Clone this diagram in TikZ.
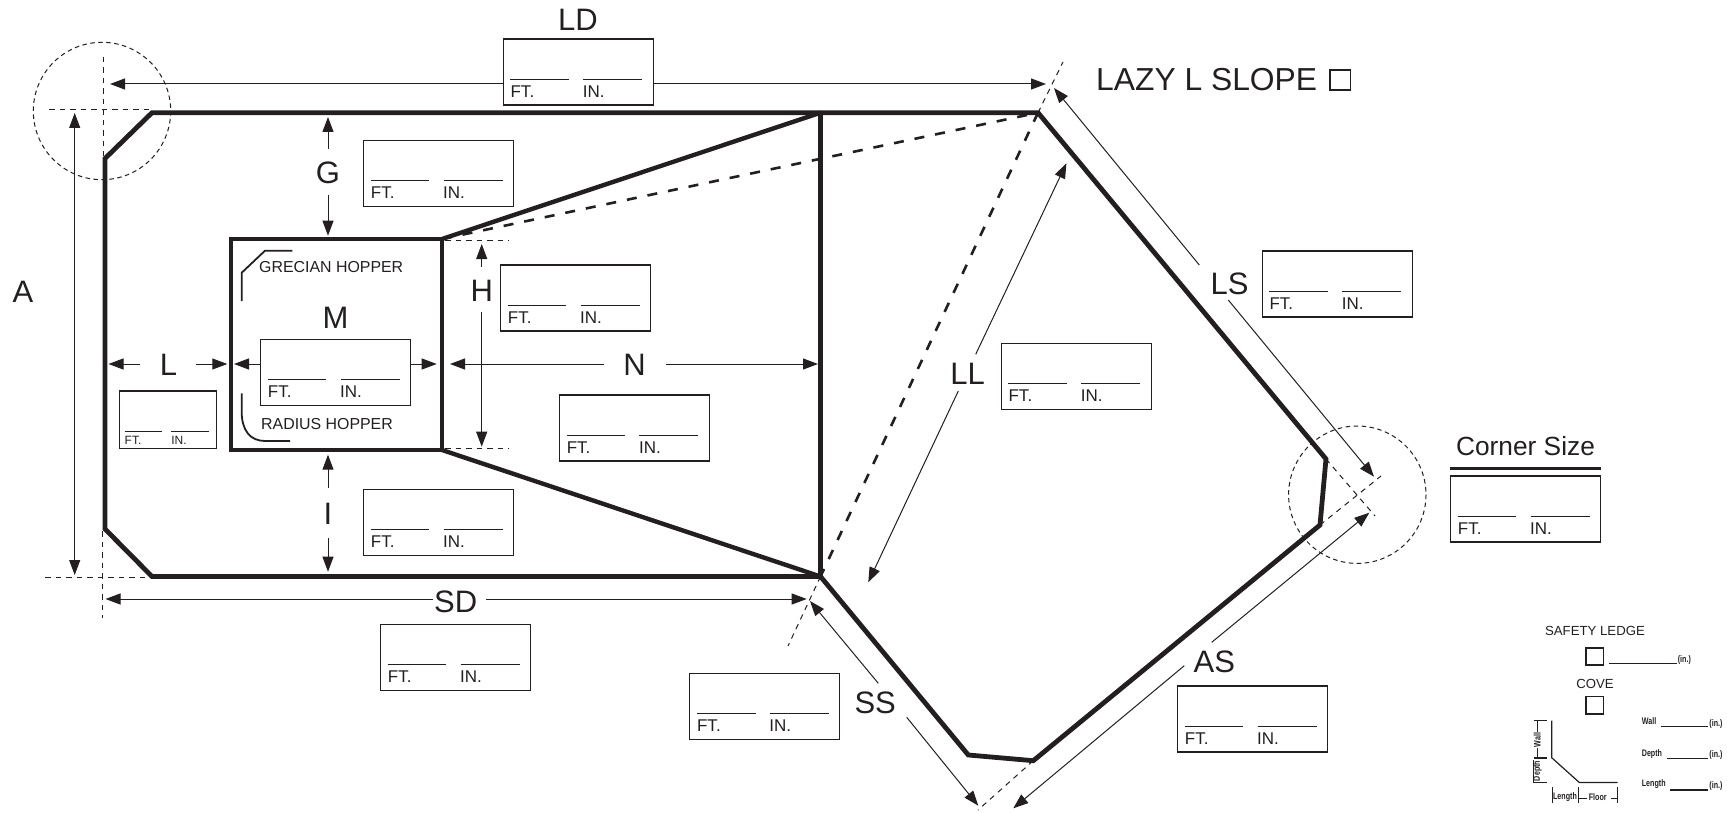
\documentclass[tikz,border=0pt]{standalone}
\usepackage{fontspec}
\setmainfont{Liberation Sans}
\usetikzlibrary{arrows.meta,positioning,calc}

\definecolor{inkk}{HTML}{231F20}

\tikzset{
    wallline/.style={draw=inkk,line width=4.8pt,line join=miter},
    hopperline/.style={draw=inkk,line width=4.4pt},
    fatdash/.style={draw=inkk,line width=2.6pt,dash pattern=on 10pt off 11pt},
    thindash/.style={draw=inkk,line width=1pt,dash pattern=on 5.5pt off 5pt},
    circdash/.style={draw=inkk,line width=1pt,dash pattern=on 4.5pt off 3.5pt},
    dimline/.style={draw=inkk,line width=1pt,-{Triangle[length=15pt,width=11pt]}},
    plainline/.style={draw=inkk,line width=1pt},
    iconline/.style={draw=inkk,line width=1.8pt},
    sizebox/.style={draw=inkk,line width=1.2pt,anchor=north west,inner sep=0pt,minimum width=150pt,minimum height=66pt},
    smallbox/.style={draw=inkk,line width=1.2pt,anchor=north west,inner sep=0pt,minimum width=97pt,minimum height=57.5pt},
    checkbox/.style={draw=inkk,line width=1.8pt,anchor=north west,inner sep=0pt,minimum width=17.5pt,minimum height=17.5pt},
    dimlabel/.style={text=inkk,inner sep=0pt,font=\fontsize{31}{31}\selectfont},
    ftlabel/.style={text=inkk,inner sep=0pt,anchor=base west,font=\fontsize{17}{17}\selectfont},
    tinyftlabel/.style={text=inkk,inner sep=0pt,anchor=base west,font=\fontsize{12}{12}\selectfont},
    hopperlabel/.style={text=inkk,inner sep=0pt,anchor=base west,font=\fontsize{15.9}{15.9}\selectfont},
    ledgelabel/.style={text=inkk,inner sep=0pt,anchor=base,font=\fontsize{13.2}{13.2}\selectfont},
    covelabel/.style={text=inkk,inner sep=0pt,xscale=.75,font=\fontsize{9.5}{9.5}\selectfont\bfseries},
    coveup/.style={text=inkk,inner sep=0pt,rotate=90,xscale=.75,font=\fontsize{9.5}{9.5}\selectfont\bfseries},
}

% box with the two blanks, FT. and IN.
\newcommand{\ftin}[3]{%
    \node[sizebox] (#1) at (#2,#3) {};
    \draw[plainline] ([shift={(7.7,-26.5)}]#1.south west) -- ([shift={(66.3,-26.5)}]#1.south west);
    \draw[plainline] ([shift={(80.5,-26.5)}]#1.south west) -- ([shift={(139.5,-26.5)}]#1.south west);
    \node[ftlabel] (#1ft) at ([shift={(7.7,-8.5)}]#1.south west) {FT.};
    \node[ftlabel] (#1in) at ([shift={(80,-8.5)}]#1.south west) {IN.};
}

\begin{document}
\begin{tikzpicture}[x=1pt,y=-1pt]
    \useasboundingbox (0,0) rectangle (1727,813);

    % pool outline
    \coordinate (tl) at (152,112.7);
    \coordinate (tm) at (820.5,112.7);
    \coordinate (tr) at (1038,112.7);
    \coordinate (rc1) at (1326,459);
    \coordinate (rc2) at (1320,525);
    \coordinate (dp2) at (1033.3,760.7);
    \coordinate (dp1) at (968.3,755);
    \coordinate (bm) at (820.5,576.5);
    \coordinate (bl) at (152,576.5);
    \coordinate (lb) at (105,529);
    \coordinate (lt) at (105,158.5);
    \draw[wallline] (tl) -- (tm) -- (tr) -- (rc1) -- (rc2) -- (dp2) -- (dp1) -- (bm) -- (bl) -- (lb) -- (lt) -- cycle;
    \draw[hopperline] (tm) -- (bm);

    % hopper
    \coordinate (hnw) at (230.7,239);
    \coordinate (hne) at (442,239);
    \coordinate (hse) at (442,450);
    \coordinate (hsw) at (230.7,450);
    \draw[hopperline] (hnw) -- (hne) -- (hse) -- (hsw) -- cycle;
    \draw[hopperline] (hne) -- (tm);
    \draw[hopperline] (hse) -- (bm);
    \draw[iconline] (241.7,301) -- (241.7,272.7) -- (265,250.7) -- (292.3,250.7);
    \draw[iconline] (241.7,393.3) -- (241.7,412) .. controls (241.7,430) and (250,441) .. (265,441) -- (290,441);
    \node[hopperlabel] (grecian) at (259,272.7) {GRECIAN HOPPER};
    \node[hopperlabel] (radius) at (261,429.3) {RADIUS HOPPER};

    % break lines
    \draw[fatdash] (hne) -- (tr);
    \draw[fatdash] (tr) -- (bm);
    \coordinate (slopetop) at (1063,62);
    \coordinate (slopebot) at (788,646);
    \draw[thindash] (tr) -- (slopetop);
    \draw[thindash] (bm) -- (slopebot);
    \draw[thindash] (445,240.7) -- (509,240.7);
    \draw[thindash] (445,448.3) -- (509,448.3);
    \coordinate (dpfoot) at (978,810);
    \draw[thindash] (dp2) -- (dpfoot);

    % corners
    \draw[circdash] (102,111) circle (68.7);
    \draw[circdash] (1357.3,494.7) circle (68.7);
    \draw[thindash] (103.3,57) -- (103.3,156);
    \draw[thindash] (49,110) -- (150,110);
    \draw[thindash] (102.7,531) -- (102.7,618);
    \draw[thindash] (45,577.7) -- (150,577.7);
    \draw[thindash] (rc1) -- (1375,516);
    \draw[thindash] (rc2) -- (1381,476);

    % size boxes
    \ftin{boxLD}{502.7}{38.4}
    \ftin{boxG}{363}{140}
    \ftin{boxH}{500}{264.3}
    \ftin{boxM}{260}{339}
    \ftin{boxN}{558.9}{394.3}
    \ftin{boxI}{363}{489}
    \ftin{boxSD}{380}{624}
    \ftin{boxSS}{689.2}{672.7}
    \ftin{boxAS}{1177}{685.3}
    \ftin{boxLL}{1000.7}{343}
    \ftin{boxLS}{1261.6}{250.4}
    \ftin{boxCorner}{1450}{475.3}

    % the small one
    \node[smallbox] (boxL) at (119.2,390.4) {};
    \draw[plainline] ([shift={(5.3,-17.3)}]boxL.south west) -- ([shift={(43,-17.3)}]boxL.south west);
    \draw[plainline] ([shift={(52,-17.3)}]boxL.south west) -- ([shift={(89.6,-17.3)}]boxL.south west);
    \node[tinyftlabel] (boxLft) at ([shift={(5.3,-4.7)}]boxL.south west) {FT.};
    \node[tinyftlabel] (boxLin) at ([shift={(52,-4.7)}]boxL.south west) {IN.};

    % labels
    \node[dimlabel] (LD) at (578,20) {LD};
    \node[dimlabel] (A) at (23,292) {A};
    \node[dimlabel] (G) at (328,173) {G};
    \node[dimlabel] (H) at (481.7,290.7) {H};
    \node[dimlabel] (L) at (168.5,365) {L};
    \node[dimlabel] (M) at (335.5,318.3) {M};
    \node[dimlabel] (N) at (634.5,365) {N};
    \node[dimlabel] (I) at (328,514) {I};
    \node[dimlabel] (SD) at (455.7,601.7) {SD};
    \node[dimlabel] (SS) at (875.2,703.3) {SS};
    \node[dimlabel] (AS) at (1214.3,662) {AS};
    \node[dimlabel] (LL) at (967.7,374.3) {LL};
    \node[dimlabel] (LS) at (1229.5,284.3) {LS};
    \node[dimlabel,font=\fontsize{31.8}{31.8}\selectfont,anchor=base west] (lazy) at (1096,90.5) {LAZY L SLOPE};
    \node[checkbox,line width=1.6pt,minimum width=20.5pt,minimum height=19.5pt] (lazybox) at (1329,69.5) {};
    \node[text=inkk,inner sep=0pt,anchor=base,font=\fontsize{26.3}{26.3}\selectfont] (corner) at (1525.5,455) {Corner Size};
    \draw[draw=inkk,line width=2.6pt] (boxCorner.north west) ++(0,-7) -- ($(boxCorner.north east)+(0,-7)$);

    % dimension arrows
    \draw[dimline] (boxLD.west |- 0,84) -- (110,84);
    \draw[dimline] (boxLD.east |- 0,84) -- (1046,84);
    \draw[dimline,{Triangle[length=15pt,width=11pt]}-{Triangle[length=15pt,width=11pt]}] (74.7,113) -- (74.7,575);
    \draw[dimline] (328,148.7) -- (328,117);
    \draw[dimline] (328,195) -- (328,235.7);
    \draw[dimline] (481.7,267) -- (481.7,244);
    \draw[dimline] (481.7,311.7) -- (481.7,446.7);
    \draw[dimline] (140,364) -- (108.5,364);
    \draw[dimline] (196,364) -- (227.3,364);
    \draw[dimline] (boxM.west |- 0,364) -- (234,364);
    \draw[dimline] (boxM.east |- 0,364) -- (436.7,364);
    \draw[dimline] (603.6,364) -- (450,364);
    \draw[dimline] (666,364) -- (818,364);
    \draw[dimline] (328,487.7) -- (328,454.7);
    \draw[dimline] (328,538) -- (328,571.7);
    \draw[dimline] (433,599) -- (105.5,599);
    \draw[dimline] (486,599) -- (806.7,599);
    \draw[dimline] (878.3,683.3) -- (810,601);
    \draw[dimline] (906.7,717.3) -- (978.3,805.7);
    \draw[dimline] (1184.3,665.7) -- (1013.3,808.3);
    \draw[dimline] (1211.7,642.3) -- (1369.3,512.7);
    \draw[dimline] (975.7,354.3) -- (1066.4,163.3);
    \draw[dimline] (958.3,391) -- (868.3,582.3);
    \draw[dimline] (1199.3,265) -- (1054,88);
    \draw[dimline] (1228.3,300) -- (1374,476.7);

    % safety ledge and cove
    \node[ledgelabel] (ledge) at (1595,635) {SAFETY LEDGE};
    \node[checkbox] (ledgebox) at (1585,646.7) {};
    \draw[plainline,line width=1.3pt] (1609,663.3) -- (1676.7,663.3);
    \node[covelabel,anchor=base west] (ledgein) at (1677.7,662.3) {(in.)};
    \node[ledgelabel] (cove) at (1595,688.3) {COVE};
    \node[checkbox] (covebox) at (1585,695.5) {};

    \coordinate (cw) at (1551.7,720.7);
    \coordinate (cd) at (1551.7,757.7);
    \coordinate (cl) at (1579.3,782.5);
    \coordinate (cf) at (1617.7,782.5);
    \draw[plainline,line width=1.2pt] (cw) -- (cd) -- (cl) -- (cf);

    \node[coveup] (wallt) at (1537.3,740) {Wall};
    \node[coveup] (deptht) at (1537.3,771) {Depth};
    \draw[plainline] (1533.5,720.7) -- (1547,720.7);
    \draw[plainline,line width=1.6pt] (1533.5,757.7) -- (1547,757.7);
    \draw[plainline] (1533.5,782.5) -- (1547,782.5);
    \draw[plainline] (1537.3,720.7) -- (1537.3,732);
    \draw[plainline] (1537.3,748) -- (1537.3,757.7);
    \draw[plainline,line width=.7pt] (1533.2,760) -- (1533.2,782.5);

    \node[covelabel] (lengtht) at (1565,797.3) {Length};
    \node[covelabel] (floort) at (1597.7,797.3) {Floor};
    \draw[plainline] (1552.3,787.3) -- (1552.3,802.7);
    \draw[plainline,line width=1.4pt] (1578.7,787.3) -- (1578.7,802.7);
    \draw[plainline] (1617.7,787.3) -- (1617.7,802.7);
    \draw[plainline] (1578.7,798.3) -- (1586.7,798.3);
    \draw[plainline] (1610.7,798.3) -- (1617.7,798.3);

    \node[covelabel,anchor=base west] (wallr) at (1641.7,724) {Wall};
    \node[covelabel,anchor=base west] (depthr) at (1641.7,756) {Depth};
    \node[covelabel,anchor=base west] (lengthr) at (1641.7,786.7) {Length};
    \draw[plainline,line width=1.3pt] (1660.7,726.7) -- (1707.7,726.7);
    \draw[plainline,line width=1.3pt] (1666.7,758.7) -- (1707.7,758.7);
    \draw[plainline,line width=1.3pt] (1670,790) -- (1707.7,790);
    \node[covelabel,anchor=base west] (inw) at (1709.3,726) {(in.)};
    \node[covelabel,anchor=base west] (ind) at (1709.3,757) {(in.)};
    \node[covelabel,anchor=base west] (inl) at (1709.3,788.7) {(in.)};
\end{tikzpicture}
\end{document}
